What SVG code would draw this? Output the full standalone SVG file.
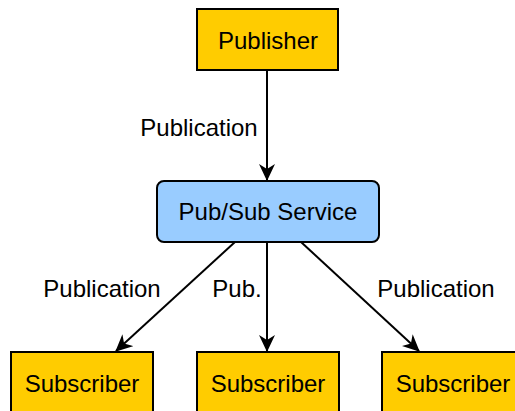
<svg xmlns="http://www.w3.org/2000/svg" width="515" height="411" viewBox="0 0 515 411">
<defs>
<style>
.box{fill:#FFCC00;stroke:#000;stroke-width:2}
.svc{fill:#99CCFF;stroke:#000;stroke-width:2}
text{font-family:"Liberation Sans",Arial,sans-serif;font-size:24px;fill:#000}
.c{text-anchor:middle}
.edge{stroke:#000;stroke-width:2;fill:none;marker-end:url(#arr)}
</style>
<marker id="arr" markerWidth="18" markerHeight="16" refX="16" refY="8" orient="auto" markerUnits="userSpaceOnUse">
<path d="M0,0 L17,8 L0,16 L5,8 Z" fill="#000"/>
</marker>
</defs>
<rect width="515" height="411" fill="#fff"/>
<g id="connectors">
<line class="edge" x1="267" y1="70" x2="267" y2="180"/>
<line class="edge" x1="235" y1="242" x2="116" y2="351"/>
<line class="edge" x1="267" y1="242" x2="267" y2="351"/>
<line class="edge" x1="301" y1="242" x2="419" y2="351"/>
<text class="c" x="199" y="136">Publication</text>
<text class="c" x="102" y="297">Publication</text>
<text class="c" x="237" y="297">Pub.</text>
<text class="c" x="436" y="297">Publication</text>
</g>
<g id="publisher">
<rect class="box" x="197" y="9" width="141" height="61"/>
<text class="c" x="268" y="48.5">Publisher</text>
</g>
<g id="service">
<rect class="svc" x="157" y="181" width="222" height="61" rx="7"/>
<text class="c" x="268" y="220">Pub/Sub Service</text>
</g>
<g id="sub1">
<rect class="box" x="11" y="352" width="142" height="70"/>
<text class="c" x="82" y="392">Subscriber</text>
</g>
<g id="sub2">
<rect class="box" x="197" y="352" width="142" height="70"/>
<text class="c" x="268" y="392">Subscriber</text>
</g>
<g id="sub3">
<rect class="box" x="382" y="352" width="142" height="70"/>
<text class="c" x="453" y="392">Subscriber</text>
</g>
</svg>
